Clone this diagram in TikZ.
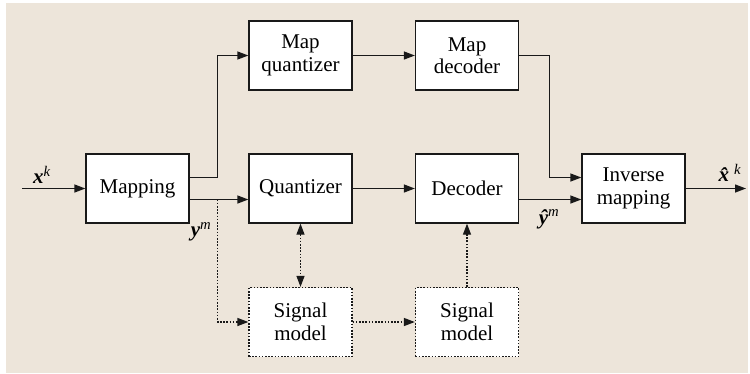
\documentclass[tikz,border=0pt]{standalone}
\usepackage{fontspec}
\setmainfont{Liberation Serif}
\usetikzlibrary{arrows.meta,calc}
\definecolor{bgbeige}{RGB}{237,229,218}
\tikzset{
  tip/.tip={Triangle[length=11pt,width=8pt]},
  blockbox/.style={draw=black!90, line width=1.3pt, fill=white, minimum width=103pt, minimum height=69pt, align=center, inner sep=0pt, font=\fontsize{21}{22.5}\selectfont},
  modelbox/.style={blockbox, dash pattern=on 1.6pt off 1.6pt},
  conn/.style={line width=1.3pt, draw=black!90, -tip},
  dotconn/.style={conn, dash pattern=on 1.6pt off 1.6pt},
  dotboth/.style={dotconn, tip-tip},
  sig/.style={font=\fontsize{21}{22}\selectfont, inner sep=0pt}
}
\begin{document}
\begin{tikzpicture}[x=1pt,y=-1pt]
\useasboundingbox (0,0) rectangle (750,373);
\fill[bgbeige] (6,3) rectangle (748,373);

\node[blockbox] (map) at (137.5,188.5) {Mapping};
\node[blockbox] (mq) at (300.5,55.5) {Map\\quantizer};
\node[blockbox] (q) at (300.5,188.5) {Quantizer};
\node[blockbox] (md) at (467,55.5) {Map\\decoder};
\node[blockbox] (d) at (467,188.5) {Decoder};
\node[blockbox] (inv) at (633.5,188.5) {Inverse\\mapping};
\node[modelbox] (sm1) at (300.5,322) {Signal\\model};
\node[modelbox] (sm2) at (467,322) {Signal\\model};

\coordinate (in) at (22,188.5);
\coordinate (out) at (746,188.5);
\coordinate (br) at ($([yshift=-11pt]map.east)+(28pt,0)$);

\draw[conn] (in) -- (map.west);
\draw[conn] ([yshift=11pt]map.east) -- ++(28pt,0) |- (mq.west);
\draw[conn] ([yshift=-11pt]map.east) -- ([yshift=-11pt]q.west);
\draw[conn] (mq.east) -- (md.west);
\draw[conn] (q.east) -- (d.west);
\draw[conn] (md.east) -- ++(30pt,0) |- ([yshift=11pt]inv.west);
\draw[conn] ([yshift=-11pt]d.east) -- ([yshift=-11pt]inv.west);
\draw[conn] (inv.east) -- (out);

\draw[dotconn] (br) |- (sm1.west);
\draw[dotboth] (q.south) -- (sm1.north);
\draw[dotconn] (sm1.east) -- (sm2.west);
\draw[dotconn] (sm2.north) -- (d.south);

\node[sig] (lx) at (42,175) {\textbf{\textit{x}}\textsuperscript{\textit{k}}};
\node[sig] (lxh) at (730,173) {\textbf{\textit{\^x}}\textsuperscript{\textit{k}}};
\node[sig] (ly) at (201,232) {\textbf{\textit{y}}\textsuperscript{\textit{m}}};
\node[sig] (lyh) at (549,219) {\textbf{\textit{\^y}}\textsuperscript{\textit{m}}};
\end{tikzpicture}
\end{document}
